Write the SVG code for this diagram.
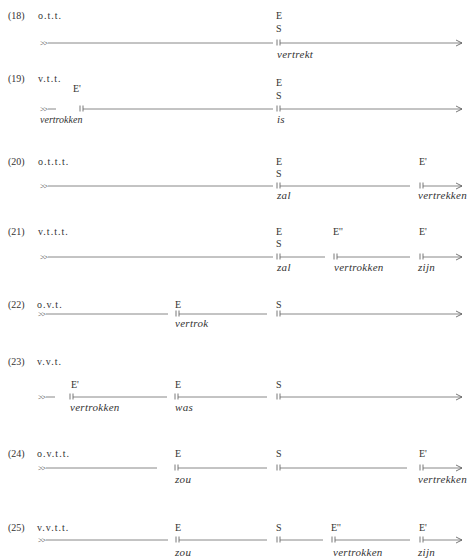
<svg xmlns="http://www.w3.org/2000/svg" width="470" height="560" viewBox="0 0 470 560">
<defs>
<marker id="ah" markerUnits="userSpaceOnUse" markerWidth="8" markerHeight="8" refX="6" refY="3" orient="auto" overflow="visible">
<path d="M0,0 L6,3 L0,6" fill="none" stroke="#555" stroke-width="0.8"/>
</marker>
<style>
text{font-family:"Liberation Serif","Times New Roman",serif;fill:#333}
.lab{font-size:10px;letter-spacing:1px}
.num{font-size:10px}
.ev{font-size:10px}
.w{font-size:11px;font-style:italic;letter-spacing:0.3px}
.st{font-size:8px;letter-spacing:-1px}
.ln{stroke:#6a6a6a;stroke-width:0.8;fill:none}
.tk{stroke:#555;stroke-width:0.8}
.ar{stroke:#6a6a6a;stroke-width:0.8;fill:none;marker-end:url(#ah)}
</style>
</defs>
<rect width="470" height="560" fill="#fff"/>

<g id="row18">
<text class="num" x="8" y="18.5">(18)</text>
<text class="lab" x="38" y="18.5">o.t.t.</text>
<text class="ev" x="276" y="18.5">E</text>
<text class="ev" x="276" y="31.5">S</text>
<text class="st" x="40" y="46">&gt;&gt;</text>
<text class="w" x="277" y="57.5">vertrekt</text>
</g>
<g id="row19">
<text class="num" x="8" y="82">(19)</text>
<text class="lab" x="38" y="82">v.t.t.</text>
<text class="ev" x="73" y="91.5">E'</text>
<text class="ev" x="276" y="85.5">E</text>
<text class="ev" x="276" y="98.5">S</text>
<text class="st" x="40" y="112">&gt;&gt;</text>
<text class="w" x="40" y="122.5" style="font-size:10px;letter-spacing:0">vertrokken</text>
<text class="w" x="277" y="122.5">is</text>
</g>
<g id="row20">
<text class="num" x="8" y="164.5">(20)</text>
<text class="lab" x="38" y="164.5">o.t.t.t.</text>
<text class="ev" x="276" y="164.5">E</text>
<text class="ev" x="276" y="176.5">S</text>
<text class="ev" x="419" y="164.5">E'</text>
<text class="st" x="40" y="189">&gt;&gt;</text>
<text class="w" x="277" y="198.5">zal</text>
<text class="w" x="418" y="198.5">vertrekken</text>
</g>
<g id="row21">
<text class="num" x="8" y="234.5">(21)</text>
<text class="lab" x="38" y="234.5">v.t.t.t.</text>
<text class="ev" x="276" y="234.5">E</text>
<text class="ev" x="276" y="246.5">S</text>
<text class="ev" x="333" y="234.5">E''</text>
<text class="ev" x="419" y="234.5">E'</text>
<text class="st" x="40" y="260">&gt;&gt;</text>
<text class="w" x="277" y="270.5">zal</text>
<text class="w" x="334" y="270.5">vertrokken</text>
<text class="w" x="418" y="270.5">zijn</text>
</g>
<g id="row22">
<text class="num" x="8" y="307.5">(22)</text>
<text class="lab" x="37" y="307.5">o.v.t.</text>
<text class="ev" x="175" y="307.5">E</text>
<text class="ev" x="276" y="307.5">S</text>
<text class="st" x="38" y="317">&gt;&gt;</text>
<text class="w" x="175" y="326.5">vertrok</text>
</g>
<g id="row23">
<text class="num" x="8" y="364.5">(23)</text>
<text class="lab" x="37" y="364.5">v.v.t.</text>
<text class="ev" x="71" y="387.5">E'</text>
<text class="ev" x="175" y="387.5">E</text>
<text class="ev" x="276" y="387.5">S</text>
<text class="st" x="38" y="400">&gt;&gt;</text>
<text class="w" x="70" y="410.5">vertrokken</text>
<text class="w" x="175" y="410.5">was</text>
</g>
<g id="row24">
<text class="num" x="8" y="456.5">(24)</text>
<text class="lab" x="37" y="456.5">o.v.t.t.</text>
<text class="ev" x="175" y="456.5">E</text>
<text class="ev" x="276" y="456.5">S</text>
<text class="ev" x="419" y="456.5">E'</text>
<text class="st" x="38" y="471">&gt;&gt;</text>
<text class="w" x="175" y="482.5">zou</text>
<text class="w" x="418" y="482.5">vertrekken</text>
</g>
<g id="row25">
<text class="num" x="8" y="530.5">(25)</text>
<text class="lab" x="37" y="530.5">v.v.t.t.</text>
<text class="ev" x="175" y="530.5">E</text>
<text class="ev" x="276" y="530.5">S</text>
<text class="ev" x="331" y="530.5">E''</text>
<text class="ev" x="419" y="530.5">E'</text>
<text class="st" x="38" y="543">&gt;&gt;</text>
<text class="w" x="175" y="555.5">zou</text>
<text class="w" x="333" y="555.5">vertrokken</text>
<text class="w" x="418" y="555.5">zijn</text>
</g>

<g id="connectors">
<!-- row 18 y=43 -->
<path class="ln" d="M48,43H273"/>
<path class="tk" d="M277,39.5V45.5M280,39.5V45.5"/>
<path class="ar" d="M280,43H462"/>
<!-- row 19 y=109 -->
<path class="ln" d="M48,109H56"/>
<path class="tk" d="M80,105.5V111.5M83,105.5V111.5"/>
<path class="ln" d="M83,109H273"/>
<path class="tk" d="M277,105.5V111.5M280,105.5V111.5"/>
<path class="ar" d="M280,109H462"/>
<!-- row 20 y=186 -->
<path class="ln" d="M48,186H273"/>
<path class="tk" d="M277,182.5V188.5M280,182.5V188.5"/>
<path class="ln" d="M280,186H410"/>
<path class="tk" d="M420,182.5V188.5M423,182.5V188.5"/>
<path class="ar" d="M423,186H462"/>
<!-- row 21 y=257 -->
<path class="ln" d="M48,257H273"/>
<path class="tk" d="M277,253.5V259.5M280,253.5V259.5"/>
<path class="ln" d="M280,257H325"/>
<path class="tk" d="M334,253.5V259.5M337,253.5V259.5"/>
<path class="ln" d="M337,257H410"/>
<path class="tk" d="M420,253.5V259.5M423,253.5V259.5"/>
<path class="ar" d="M423,257H462"/>
<!-- row 22 y=314 -->
<path class="ln" d="M46,314H168"/>
<path class="tk" d="M176,310.5V316.5M179,310.5V316.5"/>
<path class="ln" d="M179,314H267"/>
<path class="tk" d="M277,310.5V316.5M280,310.5V316.5"/>
<path class="ar" d="M280,314H462"/>
<!-- row 23 y=397 -->
<path class="ln" d="M46,397H55"/>
<path class="tk" d="M70,393.5V399.5M73,393.5V399.5"/>
<path class="ln" d="M73,397H167"/>
<path class="tk" d="M175,393.5V399.5M178,393.5V399.5"/>
<path class="ln" d="M178,397H267"/>
<path class="tk" d="M277,393.5V399.5M280,393.5V399.5"/>
<path class="ar" d="M280,397H462"/>
<!-- row 24 y=468 -->
<path class="ln" d="M46,468H157"/>
<path class="tk" d="M175,464.5V470.5M178,464.5V470.5"/>
<path class="ln" d="M178,468H267"/>
<path class="tk" d="M277,464.5V470.5M280,464.5V470.5"/>
<path class="ln" d="M280,468H407"/>
<path class="tk" d="M420,464.5V470.5M423,464.5V470.5"/>
<path class="ar" d="M423,468H462"/>
<!-- row 25 y=540 -->
<path class="ln" d="M46,540H168"/>
<path class="tk" d="M176,536.5V542.5M179,536.5V542.5"/>
<path class="ln" d="M179,540H267"/>
<path class="tk" d="M277,536.5V542.5M280,536.5V542.5"/>
<path class="ln" d="M280,540H323"/>
<path class="tk" d="M332,536.5V542.5M335,536.5V542.5"/>
<path class="ln" d="M335,540H410"/>
<path class="tk" d="M420,536.5V542.5M423,536.5V542.5"/>
<path class="ar" d="M423,540H462"/>
</g>
</svg>
